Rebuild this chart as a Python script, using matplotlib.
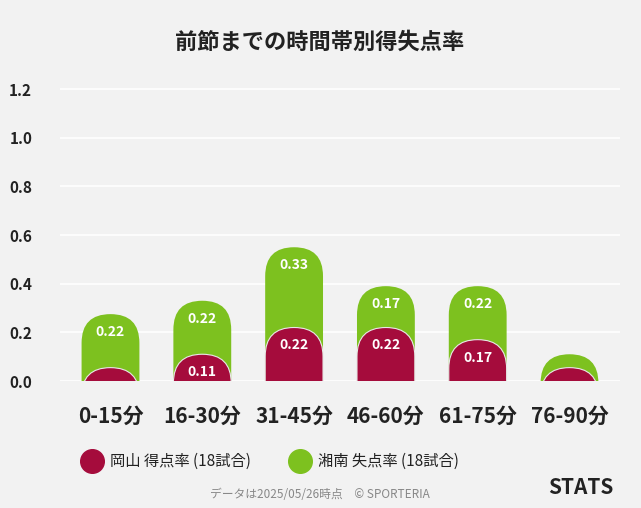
import matplotlib.pyplot as plt
from matplotlib.patches import FancyBboxPatch
from matplotlib.lines import Line2D

plt.rcParams['font.family'] = 'Noto Sans CJK JP'

# Data
categories = ['0-15分', '16-30分', '31-45分', '46-60分', '61-75分', '76-90分']
okayama_scored = [0.055, 0.11, 0.22, 0.22, 0.17, 0.055]
shonan_conceded = [0.22, 0.22, 0.33, 0.17, 0.22, 0.055]
okayama_labels = ['', '0.11', '0.22', '0.22', '0.17', '']
shonan_labels = ['0.22', '0.22', '0.33', '0.17', '0.22', '']
yticks = [0.0, 0.2, 0.4, 0.6, 0.8, 1.0, 1.2]

RED = '#A50C3C'
GREEN = '#7DC11F'
BG = '#F2F2F2'

W, H = 641, 508
fig = plt.figure(figsize=(W / 100, H / 100), dpi=100, facecolor=BG)
ax = fig.add_axes([60 / W, (H - 381) / H, 560 / W, 304 / H], facecolor=BG)
xmin, xmax, ymin, ymax = -0.55, 5.55, 0.0, 1.25
ax.set_xlim(xmin, xmax)
ax.set_ylim(ymin, ymax)

# aspect ratio for round tops (y data per x data in pixels)
px_x = 560 / (xmax - xmin)
px_y = 304 / (ymax - ymin)
aspect = px_x / px_y
bw = 0.63
r = bw / 2
bottom = -0.4


def dome_bar(x, top, color, z, edge='none'):
    p = FancyBboxPatch((x - bw / 2, bottom), bw, top - bottom,
                       boxstyle=f"round,pad=0,rounding_size={r}",
                       mutation_aspect=aspect, facecolor=color,
                       edgecolor=edge, linewidth=0.8, zorder=z)
    ax.add_patch(p)


for i in range(len(categories)):
    total = okayama_scored[i] + shonan_conceded[i]
    dome_bar(i, total, GREEN, 2)
    dome_bar(i, okayama_scored[i], RED, 3, edge='#E8E8E8')
    off = 18 / px_y
    if shonan_labels[i]:
        ax.text(i, total - off, shonan_labels[i], ha='center', va='center',
                color='white', fontsize=10, fontweight='bold', zorder=4)
    if okayama_labels[i]:
        ax.text(i, okayama_scored[i] - off, okayama_labels[i], ha='center',
                va='center', color='white', fontsize=10, fontweight='bold', zorder=4)

ax.set_yticks(yticks)
ax.set_yticklabels([f'{v:.1f}' for v in yticks], fontsize=11, fontweight='bold', color='#222222')
ax.yaxis.grid(True, color='white', linewidth=1.2, zorder=0)
ax.set_axisbelow(True)
ax.set_xticks(range(len(categories)))
ax.set_xticklabels(categories, fontsize=15, fontweight='bold', color='#222222')
ax.tick_params(length=0)
ax.tick_params(axis='x', pad=18)
ax.tick_params(axis='y', pad=20)
for s in ax.spines.values():
    s.set_visible(False)

# Title
fig.text(320 / W, 1 - 42 / H, '前節までの時間帯別得失点率', ha='center', va='center',
         fontsize=16, fontweight='bold', color='#222222')

# Legend
for cx, col, label in [(92, RED, '岡山 得点率 (18試合)'), (300, GREEN, '湘南 失点率 (18試合)')]:
    fig.add_artist(Line2D([cx / W], [1 - 461 / H], transform=fig.transFigure,
                          marker='o', markersize=17, color=col, linestyle='none'))
    fig.text((cx + 18) / W, 1 - 461 / H, label, ha='left', va='center',
             fontsize=11, color='#222222')

# Footer
fig.text(320 / W, 1 - 495 / H, 'データは2025/05/26時点　© SPORTERIA', ha='center',
         va='center', fontsize=8.5, color='#888888')
fig.text(548 / W, 1 - 488 / H, 'STATS', ha='left', va='center', fontsize=15,
         fontweight='bold', color='#222222')

fig.savefig('out.png', dpi=100, facecolor=BG)
